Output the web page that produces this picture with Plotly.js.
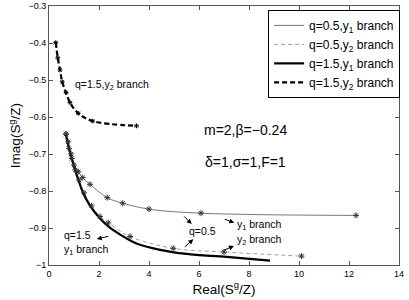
<!DOCTYPE html>
<html><head><meta charset="utf-8">
<script src="https://cdn.plot.ly/plotly-3.0.1.min.js"></script>
<style>body{margin:0;}#chart{width:409px;height:300px;}</style>
</head><body><div id="chart"></div>
<script>
// q=0.5, y1 branch
const q05y1_x = [0.68, 0.77, 0.88, 1.0, 1.17, 1.35, 1.64, 2.33, 2.95, 4.0, 6.08, 12.28];
const q05y1_y = [-0.646, -0.667, -0.70, -0.73, -0.748, -0.764, -0.782, -0.818, -0.833, -0.849, -0.860, -0.866];
// q=0.5, y2 branch
const q05y2_x = [0.68, 0.8, 0.91, 1.05, 1.2, 1.4, 1.7, 2.04, 2.37, 3.24, 4.97, 7.0, 10.1];
const q05y2_y = [-0.646, -0.685, -0.712, -0.743, -0.77, -0.805, -0.84, -0.869, -0.886, -0.923, -0.955, -0.965, -0.976];
// q=1.5, y1 branch
const q15y1_x = [0.67, 0.8, 0.91, 1.05, 1.2, 1.37, 1.6, 1.77, 2.04, 2.4, 2.9, 3.5, 4.44, 5.5, 7.1, 8.84];
const q15y1_y = [-0.646, -0.685, -0.712, -0.745, -0.775, -0.806, -0.835, -0.852, -0.874, -0.897, -0.92, -0.942, -0.959, -0.97, -0.978, -0.988];
// q=1.5, y2 branch
const q15y2_x = [0.27, 0.35, 0.44, 0.53, 0.68, 0.84, 1.17, 1.75, 3.5];
const q15y2_y = [-0.399, -0.44, -0.473, -0.505, -0.534, -0.561, -0.59, -0.611, -0.624];

const names = ['q=0.5,y<sub>1</sub> branch', 'q=0.5,y<sub>2</sub> branch', 'q=1.5,y<sub>1</sub> branch', 'q=1.5,y<sub>2</sub> branch'];
const xTicks = [0, 2, 4, 6, 8, 10, 12, 14];
const yTicks = [-1, -0.9, -0.8, -0.7, -0.6, -0.5, -0.4, -0.3];

const mk = (x, y, size, color) => ({x: x, y: y, mode: 'markers', showlegend: false, hoverinfo: 'skip',
  marker: {symbol: 'asterisk-open', size: size, color: color, line: {width: 1, color: color}}});

const traces = [
  {x: q05y1_x, y: q05y1_y, name: names[0], mode: 'lines', line: {color: '#555', width: 0.8, shape: 'spline'}},
  {x: q05y2_x, y: q05y2_y, name: names[1], mode: 'lines', line: {color: '#888', width: 0.8, dash: '4px,3px', shape: 'spline'}},
  {x: q15y1_x, y: q15y1_y, name: names[2], mode: 'lines', line: {color: '#000', width: 2.2, shape: 'spline'}},
  {x: q15y2_x, y: q15y2_y, name: names[3], mode: 'lines', line: {color: '#000', width: 2.2, dash: '5px,3px', shape: 'spline'}},
  mk(q05y1_x, q05y1_y, 5, '#333'),
  mk(q05y2_x, q05y2_y, 5, '#333'),
  mk(q15y2_x, q15y2_y, 4, '#000')
];

const F = 'Liberation Sans, Arial, sans-serif';
const arrow = (x, y, ax, ay) => ({x: x, y: y, ax: ax, ay: ay, text: '', showarrow: true, arrowhead: 2, arrowsize: 1, arrowwidth: 1, arrowcolor: '#000'});

const layout = {
  width: 409, height: 300,
  margin: {l: 49, r: 10, t: 6, b: 35},
  paper_bgcolor: '#fff', plot_bgcolor: '#fff',
  font: {family: F, color: '#000'},
  showlegend: true,
  legend: {x: 0.626, y: 0.985, xanchor: 'left', yanchor: 'top', bgcolor: '#fff', bordercolor: '#000', borderwidth: 1,
           font: {size: 12, family: F}, tracegroupgap: 0, itemwidth: 30},
  xaxis: {range: [0, 14], tickvals: xTicks, ticks: 'inside', ticklen: 4, tickcolor: '#555', mirror: 'ticks',
          showline: true, linecolor: '#555', linewidth: 1, showgrid: false, zeroline: false,
          tickfont: {size: 9, family: F},
          title: {text: 'Real(S<sup>g</sup>/Z)', font: {size: 13.5, family: F}, standoff: 6}},
  yaxis: {range: [-1, -0.3], tickvals: yTicks, ticks: 'inside', ticklen: 4, tickcolor: '#555', mirror: 'ticks',
          showline: true, linecolor: '#555', linewidth: 1, showgrid: false, zeroline: false,
          tickfont: {size: 9, family: F},
          title: {text: 'Imag(S<sup>g</sup>/Z)', font: {size: 13.5, family: F}, standoff: 4}},
  annotations: [
    {x: 0.96, y: -0.5135, text: 'q=1.5,y<sub>2</sub> branch', showarrow: false, xanchor: 'left', font: {size: 10.5}},
    {x: 7.84, y: -0.635, text: 'm=2,β=−0.24', showarrow: false, font: {size: 14}},
    {x: 7.84, y: -0.7216, text: 'δ=1,σ=1,F=1', showarrow: false, font: {size: 14}},
    {x: 0.5, y: -0.9405, text: 'q=1.5<br>y<sub>1</sub> branch', showarrow: false, xanchor: 'left', align: 'left', font: {size: 10.5}},
    {x: 6.12, y: -0.908, text: 'q=0.5', showarrow: false, font: {size: 10.5}},
    {x: 7.44, y: -0.892, text: 'y<sub>1</sub> branch', showarrow: false, xanchor: 'left', font: {size: 10.5}},
    {x: 7.44, y: -0.9324, text: 'y<sub>2</sub> branch', showarrow: false, xanchor: 'left', font: {size: 10.5}},
    arrow(1.908, -0.9297, 13, -3),
    arrow(5.708, -0.889, -9, -9),
    arrow(5.772, -0.9305, -10, 9),
    arrow(7.412, -0.8857, -11, -4),
    arrow(7.4, -0.9486, -12, 5)
  ]
};

Plotly.newPlot('chart', traces, layout, {staticPlot: true, displayModeBar: false});
</script>
</body></html>
